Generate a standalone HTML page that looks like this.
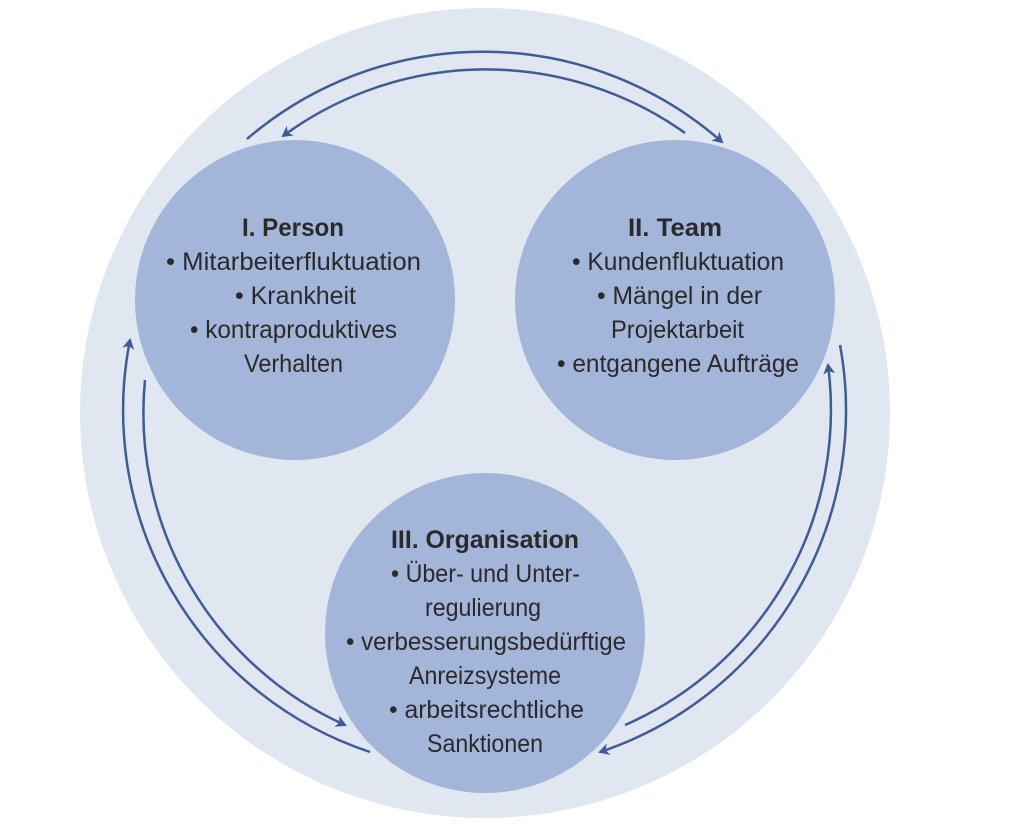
<!DOCTYPE html>
<html><head><meta charset="utf-8"><style>
html,body{margin:0;padding:0;background:#fff;}
svg{display:block;}
text{font-family:"Liberation Sans Narrow","Liberation Sans",sans-serif;font-size:25px;fill:#2a2a2a;}
.t{font-weight:bold;}
</style></head><body>
<svg width="1024" height="829" viewBox="0 0 1024 829" xmlns="http://www.w3.org/2000/svg">
<defs>
<marker id="ah" markerWidth="12" markerHeight="12" refX="9" refY="6" orient="auto" markerUnits="userSpaceOnUse">
<path d="M0,0 L11,6 L0,12 L3,6 Z" fill="#3f5b99"/>
</marker>
</defs>
<circle cx="485" cy="413" r="405" fill="#e1e7f1"/>
<circle cx="295" cy="300" r="160" fill="#a3b5d8"/>
<circle cx="675" cy="300" r="160" fill="#a3b5d8"/>
<circle cx="485" cy="633" r="160" fill="#a3b5d8"/>
<g fill="none" stroke="#3f5b99" stroke-width="2.5" marker-end="url(#ah)">
<path d="M247,139 A362,362 0 0 1 722,142"/>
<path d="M685,133 A343,343 0 0 0 283,136"/>
<path d="M840,345 A360,360 0 0 1 600,752"/>
<path d="M625,725 A344,344 0 0 0 828,365"/>
<path d="M370,752 A360,360 0 0 1 130,340"/>
<path d="M145,380 A342,342 0 0 0 345,725"/>
</g>
<g>
<text class="t" x="242" y="236" textLength="102" lengthAdjust="spacingAndGlyphs">I. Person</text>
<text x="166" y="270" textLength="255" lengthAdjust="spacingAndGlyphs">• Mitarbeiterfluktuation</text>
<text x="235" y="304" textLength="121" lengthAdjust="spacingAndGlyphs">• Krankheit</text>
<text x="190" y="338" textLength="207" lengthAdjust="spacingAndGlyphs">• kontraproduktives</text>
<text x="244" y="372" textLength="99" lengthAdjust="spacingAndGlyphs">Verhalten</text>

<text class="t" x="628" y="236" textLength="94" lengthAdjust="spacingAndGlyphs">II. Team</text>
<text x="572" y="270" textLength="212" lengthAdjust="spacingAndGlyphs">• Kundenfluktuation</text>
<text x="597" y="304" textLength="165" lengthAdjust="spacingAndGlyphs">• Mängel in der</text>
<text x="611" y="338" textLength="133" lengthAdjust="spacingAndGlyphs">Projektarbeit</text>
<text x="557" y="372" textLength="242" lengthAdjust="spacingAndGlyphs">• entgangene Aufträge</text>

<text class="t" x="391" y="548" textLength="188" lengthAdjust="spacingAndGlyphs">III. Organisation</text>
<text x="391" y="582" textLength="189" lengthAdjust="spacingAndGlyphs">• Über- und Unter-</text>
<text x="425" y="616" textLength="116" lengthAdjust="spacingAndGlyphs">regulierung</text>
<text x="346" y="650" textLength="280" lengthAdjust="spacingAndGlyphs">• verbesserungsbedürftige</text>
<text x="409" y="684" textLength="152" lengthAdjust="spacingAndGlyphs">Anreizsysteme</text>
<text x="389" y="718" textLength="195" lengthAdjust="spacingAndGlyphs">• arbeitsrechtliche</text>
<text x="427" y="752" textLength="116" lengthAdjust="spacingAndGlyphs">Sanktionen</text>
</g>
</svg>
</body></html>
